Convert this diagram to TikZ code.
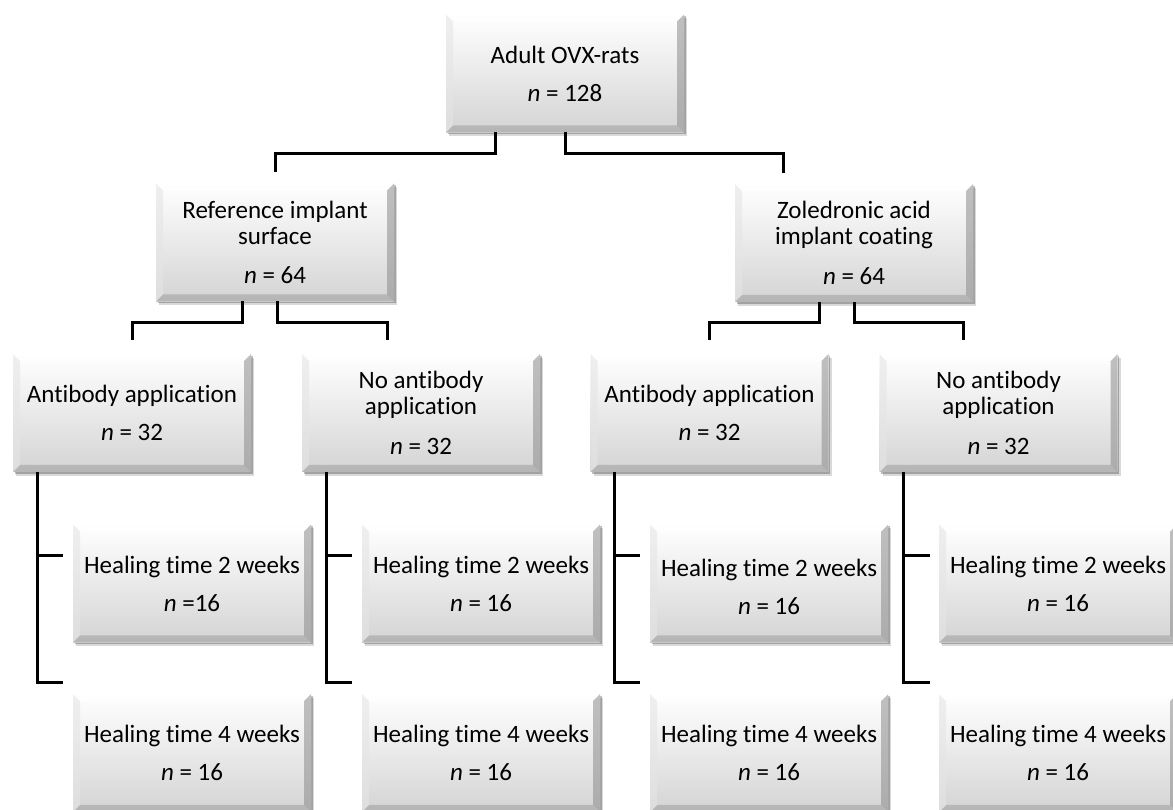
\documentclass[tikz,border=0pt]{standalone}
\usepackage{fontspec}
\setmainfont{Carlito}[Ligatures=NoCommon]
\usetikzlibrary{shadows,calc}
\tikzset{
  bx/.style={rectangle, minimum width=238pt, minimum height=118pt, inner sep=0pt, outer sep=0pt,
    align=center, font=\fontsize{25}{26}\selectfont,
    top color=white, bottom color=black!17,
    drop shadow={shadow xshift=3pt, shadow yshift=-4pt, fill=black, opacity=0.15},
    drop shadow={shadow xshift=1.5pt, shadow yshift=-2pt, fill=black, opacity=0.25},
    path picture={
      \fill[black!45, opacity=.55] (path picture bounding box.north east) -- (path picture bounding box.south east)
        -- ($(path picture bounding box.south east)+(-7pt,7pt)$) -- ($(path picture bounding box.north east)+(-7pt,-7pt)$) -- cycle;
      \fill[black!40, opacity=.5] (path picture bounding box.south west) -- (path picture bounding box.south east)
        -- ($(path picture bounding box.south east)+(-7pt,7pt)$) -- ($(path picture bounding box.south west)+(7pt,7pt)$) -- cycle;
      \fill[black!10, opacity=.6] (path picture bounding box.north west) -- (path picture bounding box.south west)
        -- ($(path picture bounding box.south west)+(7pt,7pt)$) -- ($(path picture bounding box.north west)+(7pt,-7pt)$) -- cycle;
      \fill[white, opacity=.7] (path picture bounding box.north west) -- (path picture bounding box.north east)
        -- ($(path picture bounding box.north east)+(-7pt,-7pt)$) -- ($(path picture bounding box.north west)+(7pt,-7pt)$) -- cycle;
    }},
  conn/.style={line width=3pt, black}
}
\begin{document}
\begin{tikzpicture}[x=1pt,y=1pt]
\useasboundingbox[fill=white] (0,0) rectangle (1173,810);
\node[bx] (top) at (565,736.5) {Adult OVX-rats\\[12pt]\textit{n} = 128};
\node[bx] (L2a) at (275,567.5) {Reference implant\\surface\\[13.5pt]\textit{n} = 64};
\node[bx] (L2b) at (854,567) {Zoledronic acid\\implant coating\\[13.5pt]\textit{n} = 64};
\node[bx] (A1) at (132,397) {Antibody application\\[12pt]\textit{n} = 32};
\node[bx] (A2) at (421,397) {No antibody\\application\\[13.5pt]\textit{n} = 32};
\node[bx] (A3) at (709.5,397) {Antibody application\\[12pt]\textit{n} = 32};
\node[bx] (A4) at (998.5,397) {No antibody\\application\\[13.5pt]\textit{n} = 32};
\node[bx] (H1a) at (192,226.5) {Healing time 2 weeks\\[12pt]\textit{n} =16};
\node[bx] (H1b) at (192,57) {Healing time 4 weeks\\[12pt]\textit{n} = 16};
\node[bx] (H2a) at (481,226.5) {Healing time 2 weeks\\[12pt]\textit{n} = 16};
\node[bx] (H2b) at (481,57) {Healing time 4 weeks\\[12pt]\textit{n} = 16};
\node[bx] (H3a) at (769,226.5) {\rule{0pt}{24pt}Healing time 2 weeks\\[12pt]\textit{n} = 16};
\node[bx] (H3b) at (769,57) {Healing time 4 weeks\\[12pt]\textit{n} = 16};
\node[bx] (H4a) at (1058,226.5) {Healing time 2 weeks\\[12pt]\textit{n} = 16};
\node[bx] (H4b) at (1058,57) {Healing time 4 weeks\\[12pt]\textit{n} = 16};
% level 1 -> 2
\draw[conn] ([xshift=-70pt]top.south) -- ++(0,-21) -| ([yshift=11pt]L2a.north);
\draw[conn] (top.south) -- ++(0,-21) -| ([xshift=-71pt,yshift=11pt]L2b.north);
% level 2 -> 3
\draw[conn] ([xshift=-33pt]L2a.south) -- ++(0,-21) -| ([yshift=14pt]A1.north);
\draw[conn] ([xshift=2pt]L2a.south) -- ++(0,-21) -| ([xshift=-34pt,yshift=14pt]A2.north);
\draw[conn] ([xshift=-35pt]L2b.south) -- ++(0,-21) -| ([yshift=14pt]A3.north);
\draw[conn] (L2b.south) -- ++(0,-21) -| ([xshift=-35.5pt,yshift=14pt]A4.north);
% level 3 -> healing
\draw[conn] ([xshift=-95pt]A1.south) |- ([xshift=-10pt,yshift=-31pt]H1a.north west);
\draw[conn] ([xshift=-95pt]A1.south) |- ([xshift=-10pt,yshift=11pt]H1b.north west);
\draw[conn] ([xshift=-95pt]A2.south) |- ([xshift=-10pt,yshift=-31pt]H2a.north west);
\draw[conn] ([xshift=-95pt]A2.south) |- ([xshift=-10pt,yshift=11pt]H2b.north west);
\draw[conn] ([xshift=-95.5pt]A3.south) |- ([xshift=-10pt,yshift=-31pt]H3a.north west);
\draw[conn] ([xshift=-95.5pt]A3.south) |- ([xshift=-10pt,yshift=11pt]H3b.north west);
\draw[conn] ([xshift=-95.5pt]A4.south) |- ([xshift=-9pt,yshift=-31pt]H4a.north west);
\draw[conn] ([xshift=-95.5pt]A4.south) |- ([xshift=-9pt,yshift=11pt]H4b.north west);
\end{tikzpicture}
\end{document}
